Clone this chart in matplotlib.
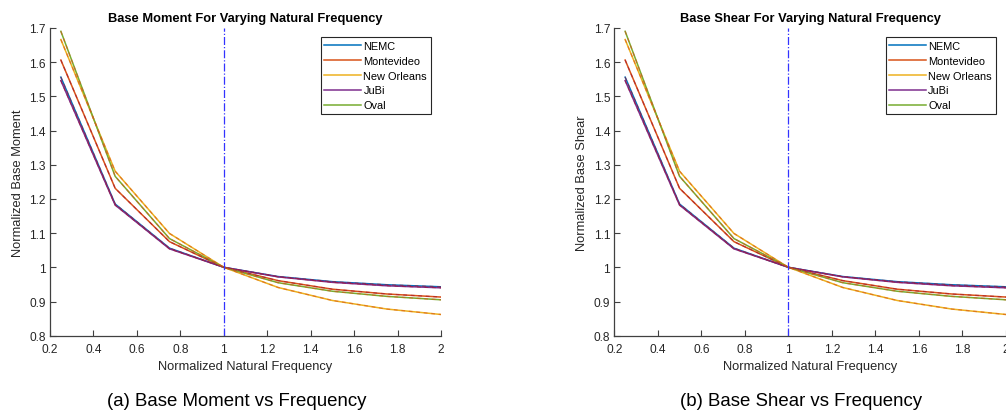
import matplotlib.pyplot as plt

plt.rcParams['font.family'] = ['Liberation Sans', 'DejaVu Sans']

# normalized natural frequency samples
freq = [0.25, 0.5, 0.75, 1.0, 1.25, 1.5, 1.75, 2.0]
sites = ['NEMC', 'Montevideo', 'New Orleans', 'JuBi', 'Oval']

# normalized base moment per site
moment_nemc = [1.556, 1.185, 1.056, 1.0, 0.973, 0.958, 0.949, 0.943]
moment_montevideo = [1.606, 1.231, 1.075, 1.0, 0.961, 0.936, 0.922, 0.913]
moment_neworleans = [1.666, 1.281, 1.099, 1.0, 0.941, 0.903, 0.878, 0.862]
moment_jubi = [1.546, 1.182, 1.054, 1.0, 0.972, 0.956, 0.946, 0.940]
moment_oval = [1.690, 1.266, 1.084, 1.0, 0.955, 0.930, 0.915, 0.905]

# normalized base shear per site
shear_nemc = [1.556, 1.185, 1.056, 1.0, 0.973, 0.958, 0.949, 0.943]
shear_montevideo = [1.606, 1.231, 1.075, 1.0, 0.961, 0.936, 0.922, 0.913]
shear_neworleans = [1.666, 1.281, 1.099, 1.0, 0.941, 0.903, 0.878, 0.862]
shear_jubi = [1.546, 1.182, 1.054, 1.0, 0.972, 0.956, 0.946, 0.940]
shear_oval = [1.690, 1.266, 1.084, 1.0, 0.955, 0.930, 0.915, 0.905]

colors = ['#0072BD', '#D95319', '#EDB120', '#7E2F8E', '#77AC30']
overlay = ['#A2142F', '#A2142F', '#D95319', '#A2142F', '#D95319']

panels = [
    ([moment_nemc, moment_montevideo, moment_neworleans, moment_jubi, moment_oval],
     'Base Moment For Varying Natural Frequency', 'Normalized Base Moment',
     '(a) Base Moment vs Frequency'),
    ([shear_nemc, shear_montevideo, shear_neworleans, shear_jubi, shear_oval],
     'Base Shear For Varying Natural Frequency', 'Normalized Base Shear',
     '(b) Base Shear vs Frequency'),
]

fig = plt.figure(figsize=(10.06, 4.14), dpi=100)
lefts = [0.0497, 0.6106]
widths = [0.3887, 0.3894]
centers = [236.5 / 1006, 801 / 1006]

for k, (series, title, ylab, caption) in enumerate(panels):
    ax = fig.add_axes([lefts[k], 0.1867, widths[k], 0.7435])
    lines = []
    for s, c in zip(series, colors):
        ln, = ax.plot(freq, s, color=c, lw=1.1)
        lines.append(ln)
    for s, c in zip(series, overlay):
        ax.plot(freq, s, color=c, lw=0.9, ls=(0, (3, 3)), alpha=0.6)
    ax.axvline(1.0, color='#3333ff', lw=0.9, ls='-.')

    ax.set_xlim(0.2, 2)
    ax.set_ylim(0.8, 1.7)
    ax.set_xticks([0.2, 0.4, 0.6, 0.8, 1, 1.2, 1.4, 1.6, 1.8, 2])
    ax.set_xticklabels(['0.2', '0.4', '0.6', '0.8', '1', '1.2', '1.4', '1.6', '1.8', '2'])
    ax.set_yticks([0.8, 0.9, 1, 1.1, 1.2, 1.3, 1.4, 1.5, 1.6, 1.7])
    ax.set_yticklabels(['0.8', '0.9', '1', '1.1', '1.2', '1.3', '1.4', '1.5', '1.6', '1.7'])
    ax.spines['top'].set_visible(False)
    ax.spines['right'].set_visible(False)
    for sp in ['left', 'bottom']:
        ax.spines[sp].set_color('#404040')
        ax.spines[sp].set_linewidth(0.9)
    ax.tick_params(direction='in', length=4, width=0.8, colors='#404040',
                   labelsize=8.6, labelcolor='#262626')
    ax.tick_params(axis='x', pad=5)
    ax.tick_params(axis='y', pad=3)
    ax.set_title(title, fontsize=9.3, fontweight='bold', pad=5)
    ax.set_xlabel('Normalized Natural Frequency', fontsize=9.3, color='#262626', labelpad=4)
    ax.set_ylabel(ylab, fontsize=9.3, color='#262626', labelpad=4)

    leg = ax.legend(lines, sites, loc='upper right', bbox_to_anchor=(0.974, 0.971),
                    borderaxespad=0, fontsize=7.9, handlelength=3.3, handletextpad=0.25,
                    labelspacing=0.45, borderpad=0.35, fancybox=False, framealpha=1)
    leg.get_frame().set_edgecolor('#262626')
    leg.get_frame().set_linewidth(0.8)

    fig.text(centers[k], 1 - 402 / 414, caption, ha='center', va='center',
             fontsize=13.4, color='black')

fig.savefig('out.png', dpi=100)
